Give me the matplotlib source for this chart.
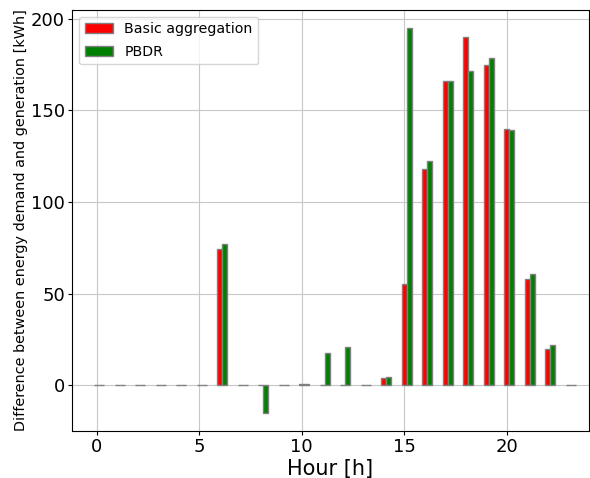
import numpy as np
from matplotlib import pyplot as plt

hours = np.arange(24)
# difference between demand and generation per hour [kWh]
basic = [0, 0, 0, 0, 0, 0, 74.2, 0, 0, 0, 0.5, 0,
         0, 0, 4.0, 55.2, 118.1, 166.1, 190.0, 174.8, 140.0, 58.2, 19.7, 0]
pbdr = [0, 0, 0, 0, 0, 0, 76.9, 0, -15.1, 0, 0.5, 17.5,
        21.1, 0, 4.6, 194.9, 122.5, 166.1, 171.7, 178.5, 139.5, 60.9, 21.9, 0]

width = 0.25

fig, ax = plt.subplots(figsize=(5.9, 4.78), dpi=100)
ax.bar(hours, basic, width=width, color='red', edgecolor='gray',
       linewidth=1, label='Basic aggregation', zorder=3)
ax.bar(hours + width, pbdr, width=width, color='green', edgecolor='gray',
       linewidth=1, label='PBDR', zorder=3)

ax.grid(True, color='#c8c8c8', linewidth=0.8, zorder=0)
ax.set_xlim(-1.2, 24.0)
ax.set_ylim(-25, 205)
ax.set_xticks([0, 5, 10, 15, 20])
ax.set_yticks([0, 50, 100, 150, 200])
ax.tick_params(labelsize=13, length=3, pad=2)
ax.set_xlabel('Hour [h]', fontsize=15, labelpad=2)
ax.set_ylabel('Difference between energy demand and generation [kWh]',
              fontsize=10.4, labelpad=2)
ax.legend(loc='upper left', fontsize=10.2, labelspacing=0.6)

plt.subplots_adjust(left=0.122, right=0.998, top=0.98, bottom=0.098)
plt.savefig('out.png')
